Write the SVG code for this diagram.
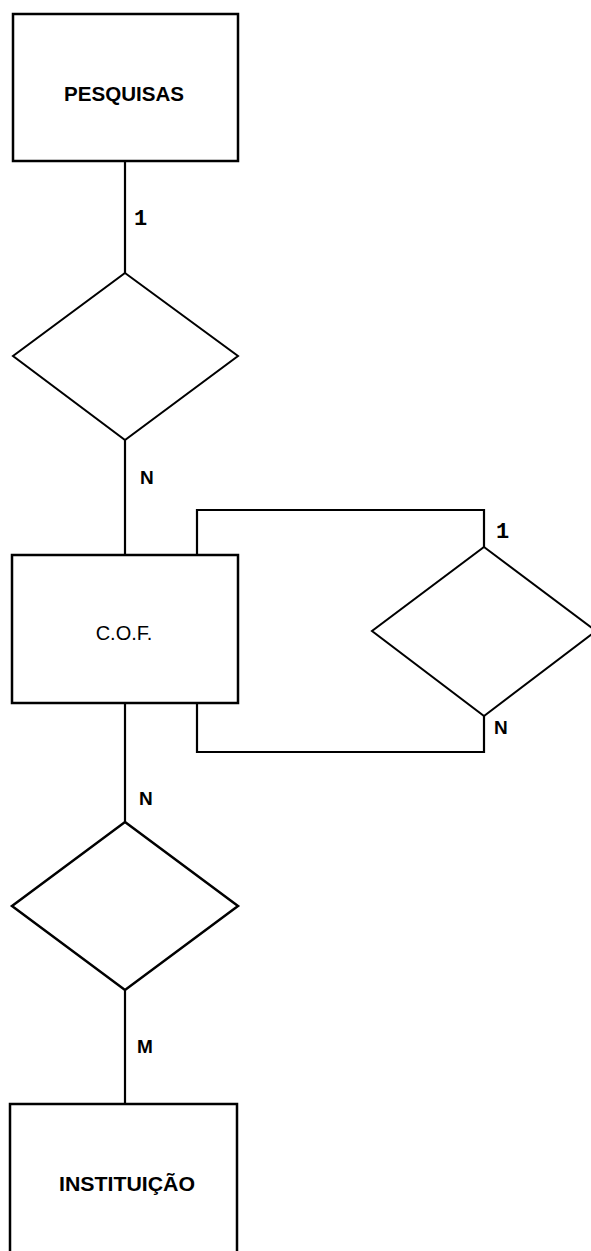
<svg xmlns="http://www.w3.org/2000/svg" width="591" height="1251" viewBox="0 0 591 1251">
<style>
.box{fill:#fff;stroke:#000;stroke-width:2.5}
.dia{fill:#fff;stroke:#000;stroke-width:2}
.conn{fill:none;stroke:#000;stroke-width:2.2}
.t{font-family:"Liberation Sans",Arial,sans-serif;font-size:20px;text-anchor:middle;fill:#000}
.lbl{font-family:"Liberation Sans",Arial,sans-serif;font-size:19px;font-weight:bold;fill:#000}
.one{font-family:"Liberation Mono","DejaVu Sans Mono",monospace;font-size:22px;font-weight:bold;fill:#000}
</style>
<rect width="591" height="1251" fill="#fff"/>
<g id="connectors">
<line class="conn" x1="125" y1="161" x2="125" y2="273"/>
<line class="conn" x1="125" y1="440" x2="125" y2="555"/>
<polyline class="conn" points="197,555 197,510 484,510 484,547"/>
<polyline class="conn" points="197,703 197,752 484,752 484,716"/>
<line class="conn" x1="125" y1="703" x2="125" y2="822"/>
<line class="conn" x1="125" y1="990" x2="125" y2="1104"/>
<text class="one" x="134" y="225">1</text>
<text class="lbl" x="140" y="484">N</text>
<text class="one" x="496" y="538">1</text>
<text class="lbl" x="494" y="734">N</text>
<text class="lbl" x="139" y="805">N</text>
<text class="lbl" x="137" y="1053">M</text>
</g>
<g id="pesquisas">
<rect class="box" x="13" y="14" width="225" height="147"/>
<text class="t" x="124" y="101" font-weight="bold" textLength="120" lengthAdjust="spacingAndGlyphs">PESQUISAS</text>
</g>
<g id="rel1">
<polygon class="dia" points="125,273 238,356 125,440 13,356"/>
</g>
<g id="cof">
<rect class="box" x="12" y="555" width="226" height="148"/>
<text class="t" x="124" y="640">C.O.F.</text>
</g>
<g id="rel-self">
<polygon class="dia" points="484,547 596,631 484,716 372,631"/>
</g>
<g id="rel2">
<polygon class="dia" points="125,822 238,906 125,990 12,906" style="stroke-width:2.5"/>
</g>
<g id="instituicao">
<rect class="box" x="10" y="1104" width="227" height="160"/>
<text class="t" x="127" y="1191" font-weight="bold" textLength="136" lengthAdjust="spacingAndGlyphs">INSTITUIÇÃO</text>
</g>
</svg>
